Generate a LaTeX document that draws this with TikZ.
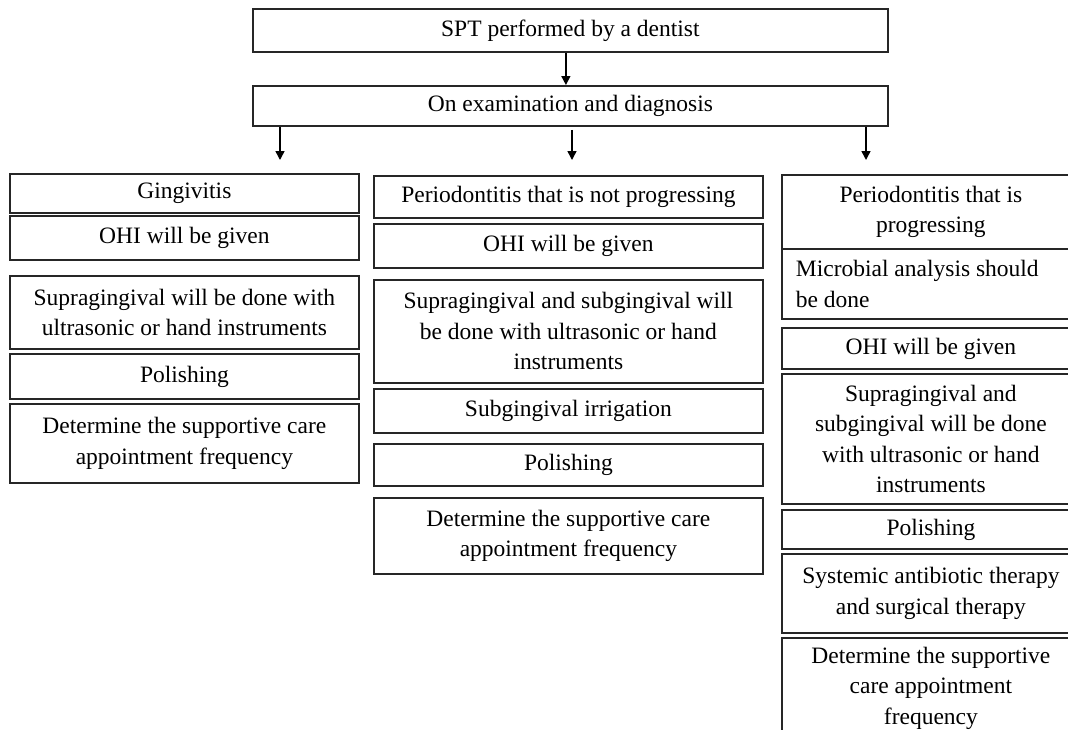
\documentclass[tikz,border=0pt]{standalone}
\usepackage{fontspec}
\setmainfont{Liberation Serif}
\usetikzlibrary{positioning,arrows.meta}

\newcommand{\boxfont}{\fontsize{23.5}{30.5}\selectfont}

\begin{document}
\begin{tikzpicture}[
  x=1pt, y=-1pt,
  box/.style={draw=black!85, line width=1.8pt, anchor=north west, inner sep=0pt, align=center, font=\boxfont},
  colA/.style={box, minimum width=349},
  colB/.style={box, minimum width=389},
  colC/.style={box, minimum width=298},
  arr/.style={line width=1.5pt, -{Triangle[width=9pt,length=9pt]}}
]
\clip (0,0) rectangle (1068,729);
% top of the chart
\node[box, minimum width=635, minimum height=43] (top) at (252,8) {SPT performed by a dentist};
\node[box, minimum width=635, minimum height=40] (diag) at (252,85) {On examination and diagnosis};
\coordinate (tipA) at (280,160);
\coordinate (tipB) at (572,160);
\coordinate (tipC) at (866,160);
\draw[arr] ([xshift=-4.5pt]top.south) -- ([xshift=-4.5pt]diag.north);
\draw[arr] (diag.south -| tipA) -- (tipA);
\draw[arr] ([yshift=-3pt]diag.south -| tipB) -- (tipB);
\draw[arr] (diag.south -| tipC) -- (tipC);
% gingivitis
\node[colA, minimum height=39] (ging) at (9,173) {Gingivitis};
\node[colA, minimum height=44] (ohiA) at (9,215) {OHI will be given};
\node[colA, minimum height=73] (supraA) at (9,275) {Supragingival will be done with\\ultrasonic or hand instruments};
\node[colA, minimum height=45] (polA) at (9,353) {Polishing};
\node[colA, minimum height=79] (detA) at (9,403) {Determine the supportive care\\appointment frequency};
% periodontitis, not progressing
\node[colB, minimum height=42] (perB) at (373,175) {Periodontitis that is not progressing};
\node[colB, minimum height=44] (ohiB) at (373,223) {OHI will be given};
\node[colB, minimum height=103] (supraB) at (373,279) {Supragingival and subgingival will\\be done with ultrasonic or hand\\instruments};
\node[colB, minimum height=44] (irrB) at (373,388) {Subgingival irrigation};
\node[colB, minimum height=42] (polB) at (373,443) {Polishing};
\node[colB, minimum height=76] (detB) at (373,497) {Determine the supportive care\\appointment frequency};
% periodontitis, progressing
\node[colC, minimum height=74] (perC) at (781,174) {Periodontitis that is\\progressing};
\node[colC, minimum height=70, text width=270, inner xsep=14pt, align=none] (micC) at (781,248) {\noindent Microbial analysis should\newline be done};
\node[colC, minimum height=41] (ohiC) at (781,327) {OHI will be given};
\node[colC, minimum height=130] (supraC) at (781,373) {Supragingival and\\subgingival will be done\\with ultrasonic or hand\\instruments};
\node[colC, minimum height=39] (polC) at (781,509) {Polishing};
\node[colC, minimum height=79] (antiC) at (781,553) {Systemic antibiotic therapy\\and surgical therapy};
\node[colC, minimum height=138] (detC) at (781,637) {Determine the supportive\\care appointment\\frequency\\[12pt]};
\end{tikzpicture}
\end{document}
